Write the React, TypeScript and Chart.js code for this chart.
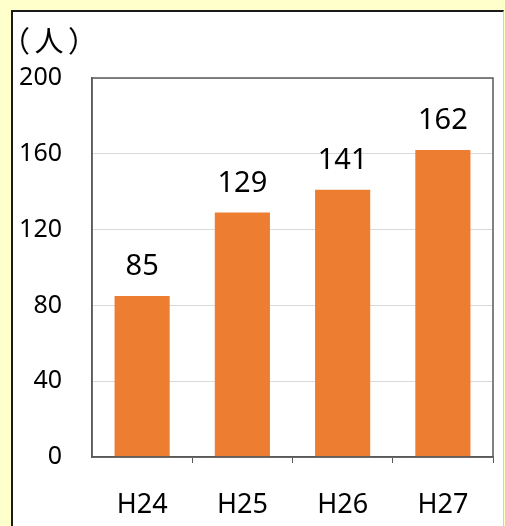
import React, { useEffect, useRef } from "react";
import { Chart, registerables } from "chart.js";

Chart.register(...registerables);

const categories = ["H24", "H25", "H26", "H27"];
const values = [85, 129, 141, 162];
const yTicks = [0, 40, 80, 120, 160, 200];
const unitLabel = "（人）";

const BAR_COLOR = "#ED7D31";
const AXIS_COLOR = "#595959";

const frame = {
  id: "frame",
  afterDatasetsDraw(chart: any) {
    const { ctx, chartArea } = chart;
    ctx.save();
    ctx.strokeStyle = AXIS_COLOR;
    ctx.lineWidth = 1.5;
    ctx.strokeRect(chartArea.left, chartArea.top, chartArea.right - chartArea.left, chartArea.bottom - chartArea.top);
    // value labels
    const meta = chart.getDatasetMeta(0);
    ctx.fillStyle = "#000";
    ctx.font = "29px 'Noto Sans'";
    ctx.textAlign = "center";
    ctx.textBaseline = "alphabetic";
    meta.data.forEach((bar: any, i: number) => {
      ctx.fillText(String(values[i]), bar.x, bar.y - 21);
    });
    // unit label
    ctx.font = "29px 'Noto Sans CJK JP', sans-serif";
    ctx.textAlign = "left";
    ctx.textBaseline = "middle";
    (ctx as any).letterSpacing = "0px";
    let m = ctx.measureText(unitLabel);
    const w0 = m.actualBoundingBoxLeft + m.actualBoundingBoxRight;
    const s = Math.max(-8, Math.min(8, (56 - w0) / 2));
    (ctx as any).letterSpacing = s + "px";
    m = ctx.measureText(unitLabel);
    ctx.fillText(unitLabel, 8 + m.actualBoundingBoxLeft, 29);
    ctx.restore();
  },
};

export default function App() {
  const ref = useRef<HTMLCanvasElement>(null);
  useEffect(() => {
    const chart = new Chart(ref.current!, {
      type: "bar",
      data: {
        labels: categories,
        datasets: [
          {
            data: values,
            backgroundColor: BAR_COLOR,
            barPercentage: 0.55,
            categoryPercentage: 1,
          },
        ],
      },
      options: {
        animation: false,
        responsive: false,
        devicePixelRatio: 1,
        layout: { padding: { left: 0, top: 66, right: 10, bottom: 0 } },
        plugins: { legend: { display: false }, tooltip: { enabled: false } },
        scales: {
          x: {
            grid: {
              display: true,
              drawOnChartArea: false,
              drawTicks: true,
              tickLength: 6,
              color: (c: any) =>
                c.index === 0 || c.index === categories.length ? "rgba(0,0,0,0)" : AXIS_COLOR,
              lineWidth: 1,
            },
            border: { display: true, color: AXIS_COLOR, width: 1.5 },
            ticks: { color: "#000", font: { size: 27, family: "'Noto Sans'" }, padding: 26 },
            afterFit(scale: any) {
              scale.height = 69;
            },
          },
          y: {
            min: 0,
            max: 200,
            afterBuildTicks(scale: any) {
              scale.ticks = yTicks.map((v) => ({ value: v }));
            },
            grid: { color: "#D9D9D9", lineWidth: 1, drawTicks: false },
            border: { display: true, color: AXIS_COLOR, width: 1.5 },
            ticks: { color: "#000", font: { size: 25, family: "'Noto Sans'" }, padding: 30 },
            afterFit(scale: any) {
              scale.width = 79;
            },
          },
        },
      },
      plugins: [frame],
    });
    return () => chart.destroy();
  }, []);

  return (
    <div style={{ position: "fixed", inset: 0, background: "#FFFFCC", overflow: "hidden" }}>
      <div
        style={{
          position: "absolute",
          left: 11,
          top: 10,
          width: 490,
          height: 530,
          background: "#fff",
          borderLeft: "2px solid #1a1a1a",
          borderTop: "2px solid #1a1a1a",
          borderRight: "1px solid #cfcfcf",
        }}
      >
        <canvas ref={ref} width={490} height={514} style={{ display: "block" }} />
      </div>
    </div>
  );
}
